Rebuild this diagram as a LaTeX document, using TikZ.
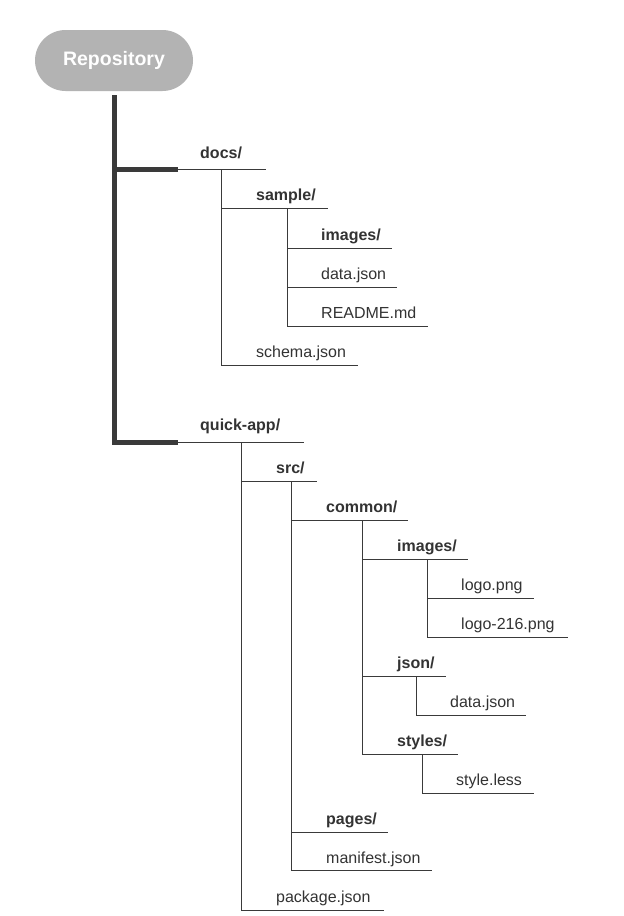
\documentclass[tikz,border=0pt]{standalone}
\usepackage{fontspec}
\setmainfont{Liberation Sans}
\begin{document}
\begin{tikzpicture}[x=1pt,y=-1pt,
  entry/.style={anchor=base west,inner sep=0pt,text=txt,font=\fontsize{16}{19}\selectfont},
  dir/.style={entry,font=\fontsize{16}{19}\selectfont\bfseries},
  thin/.style={draw=ln,line width=1pt},
  trunk/.style={draw=ln,line width=4.6pt},
  pill/.style={fill=pillgray,text=white,font=\fontsize{19.5}{23}\selectfont\bfseries,rounded corners=30.5pt,minimum width=158pt,minimum height=61pt,inner sep=0pt}
]
\definecolor{txt}{HTML}{333333}
\definecolor{ln}{HTML}{3A3A3A}
\definecolor{pillgray}{HTML}{B3B3B3}
\useasboundingbox (0,0) rectangle (624,916);
% root
\node[pill] (repo) at (114,60.5) {Repository};
\coordinate (trunkTop) at (114.5,95);
% ---------- docs ----------
\node[dir] (docs) at (200,158) {docs/};
\coordinate (docsA) at (114.5,169.5); \coordinate (docsB) at (178,169.5); \coordinate (docsE) at (266,169.5);
\coordinate (docsV) at (221,169.5);
\node[dir] (sample) at (256,200.5) {sample/};
\coordinate (sampleA) at (221,208.5); \coordinate (sampleE) at (328,208.5); \coordinate (sampleV) at (287,208.5);
\node[dir] (img1) at (321,240.5) {images/};
\coordinate (img1A) at (287,248.5); \coordinate (img1E) at (392,248.5);
\node[entry] (data1) at (321,279.5) {data.json};
\coordinate (data1A) at (287,287.5); \coordinate (data1E) at (397,287.5);
\node[entry] (readme) at (321,318.5) {README.md};
\coordinate (readmeA) at (287,326.5); \coordinate (readmeE) at (428,326.5);
\node[entry] (schema) at (256,357.5) {schema.json};
\coordinate (schemaA) at (221,365.5); \coordinate (schemaE) at (358,365.5);
% ---------- quick-app ----------
\node[dir] (qa) at (200,430.5) {quick-app/};
\coordinate (qaA) at (114.5,442.5); \coordinate (qaB) at (178,442.5); \coordinate (qaE) at (304,442.5);
\coordinate (qaV) at (241,442.5);
\node[dir] (src) at (276,473.5) {src/};
\coordinate (srcA) at (241,481.5); \coordinate (srcE) at (317,481.5); \coordinate (srcV) at (291,481.5);
\node[dir] (common) at (326,512.5) {common/};
\coordinate (commonA) at (291,520.5); \coordinate (commonE) at (408,520.5); \coordinate (commonV) at (362,520.5);
\node[dir] (img2) at (397,551.5) {images/};
\coordinate (img2A) at (362,559.5); \coordinate (img2E) at (468,559.5); \coordinate (img2V) at (427,559.5);
\node[entry] (logo) at (461,590.5) {logo.png};
\coordinate (logoA) at (427,598.5); \coordinate (logoE) at (534,598.5);
\node[entry] (logob) at (461,629.5) {logo-216.png};
\coordinate (logobA) at (427,637.5); \coordinate (logobE) at (568,637.5);
\node[dir] (json) at (397,668) {json/};
\coordinate (jsonA) at (362,676.5); \coordinate (jsonE) at (446,676.5); \coordinate (jsonV) at (416,676.5);
\node[entry] (data2) at (450,707) {data.json};
\coordinate (data2A) at (416,715.5); \coordinate (data2E) at (526,715.5);
\node[dir] (styles) at (397,746.5) {styles/};
\coordinate (stylesA) at (362,754.5); \coordinate (stylesE) at (458,754.5); \coordinate (stylesV) at (422,754.5);
\node[entry] (less) at (456,785.5) {style.less};
\coordinate (lessA) at (422,793.5); \coordinate (lessE) at (534,793.5);
\node[dir] (pages) at (326,824.5) {pages/};
\coordinate (pagesA) at (291,832.5); \coordinate (pagesE) at (388,832.5);
\node[entry] (manifest) at (326,863) {manifest.json};
\coordinate (manifestA) at (291,870.5); \coordinate (manifestE) at (432,870.5);
\node[entry] (package) at (276,902.5) {package.json};
\coordinate (packageA) at (241,910.5); \coordinate (packageE) at (384,910.5);
% ---------- lines ----------
\draw[trunk] (trunkTop) -- (qaA) -- (qaB);
\draw[trunk] (docsA) -- (docsB);
\draw[thin] (docsB) -- (docsE);
\draw[thin] (qaB) -- (qaE);
\draw[thin] (docsV) -- (schemaA);
\draw[thin] (sampleA) -- (sampleE);
\draw[thin] (sampleV) -- (readmeA);
\draw[thin] (img1A) -- (img1E);
\draw[thin] (data1A) -- (data1E);
\draw[thin] (readmeA) -- (readmeE);
\draw[thin] (schemaA) -- (schemaE);
\draw[thin] (qaV) -- (packageA);
\draw[thin] (srcA) -- (srcE);
\draw[thin] (srcV) -- (manifestA);
\draw[thin] (commonA) -- (commonE);
\draw[thin] (commonV) -- (stylesA);
\draw[thin] (img2A) -- (img2E);
\draw[thin] (img2V) -- (logobA);
\draw[thin] (logoA) -- (logoE);
\draw[thin] (logobA) -- (logobE);
\draw[thin] (jsonA) -- (jsonE);
\draw[thin] (jsonV) -- (data2A);
\draw[thin] (data2A) -- (data2E);
\draw[thin] (stylesA) -- (stylesE);
\draw[thin] (stylesV) -- (lessA);
\draw[thin] (lessA) -- (lessE);
\draw[thin] (pagesA) -- (pagesE);
\draw[thin] (manifestA) -- (manifestE);
\draw[thin] (packageA) -- (packageE);
\end{tikzpicture}
\end{document}
